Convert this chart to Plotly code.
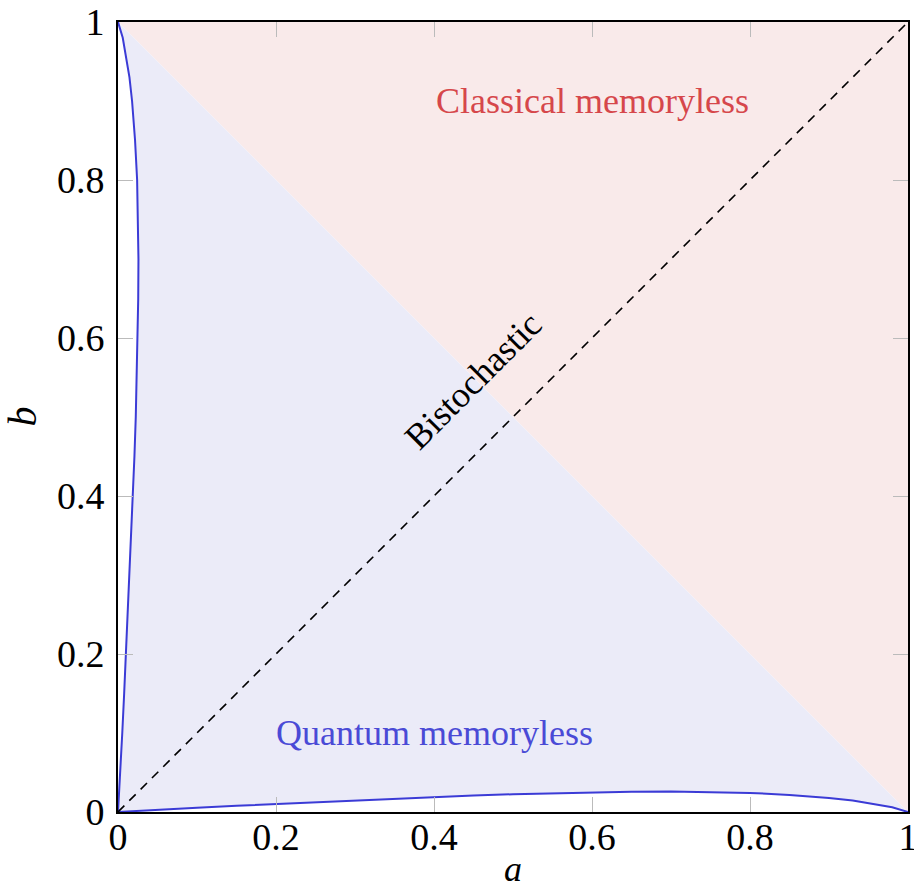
import plotly.graph_objects as go

# Boundary of the quantum memoryless region (lower curve b(a)); the left curve is its mirror image
a_vals = [0, 0.02, 0.05, 0.1, 0.15, 0.2, 0.25, 0.3, 0.35, 0.4, 0.45, 0.5, 0.55, 0.6,
          0.65, 0.7, 0.75, 0.8, 0.85, 0.9, 0.93, 0.96, 0.98, 1]
b_vals = [0, 0.0012, 0.0028, 0.0054, 0.0078, 0.0101, 0.0124, 0.0146, 0.0168, 0.0189,
          0.0208, 0.0225, 0.0238, 0.0249, 0.0256, 0.0259, 0.0255, 0.0242, 0.0216, 0.0178,
          0.0145, 0.0098, 0.0060, 0]

# Classical region: triangle above the anti-diagonal
classical_a = [0, 1, 1]
classical_b = [1, 1, 0]

diag_a = [0, 1]
diag_b = [0, 1]

tick_vals = [0, 0.2, 0.4, 0.6, 0.8, 1]
tick_text = ["0", "0.2", "0.4", "0.6", "0.8", "1"]

FONT = "Liberation Serif"
BLUE_LINE = "#3B3BD6"
BLUE_TEXT = "#4A4AD6"
RED_TEXT = "#D6474B"

fig = go.Figure()

# pink classical triangle
fig.add_trace(go.Scatter(x=classical_a, y=classical_b, fill="toself", mode="lines",
                         fillcolor="#F9EAEA", line=dict(width=0), hoverinfo="skip",
                         showlegend=False))

# lavender quantum region: bottom curve, anti-diagonal, left curve back down
poly_x = a_vals + b_vals[::-1]
poly_y = b_vals + a_vals[::-1]
fig.add_trace(go.Scatter(x=poly_x, y=poly_y, fill="toself", mode="lines",
                         fillcolor="#EBEBF8", line=dict(width=0), hoverinfo="skip",
                         showlegend=False))

# blue boundary curves
fig.add_trace(go.Scatter(x=a_vals, y=b_vals, mode="lines",
                         line=dict(color=BLUE_LINE, width=2), showlegend=False))
fig.add_trace(go.Scatter(x=b_vals, y=a_vals, mode="lines",
                         line=dict(color=BLUE_LINE, width=2), showlegend=False))

# dashed diagonal
fig.add_trace(go.Scatter(x=diag_a, y=diag_b, mode="lines",
                         line=dict(color="black", width=1.6, dash="9px,7px"),
                         showlegend=False))

axis_common = dict(range=[0, 1], showgrid=False, zeroline=False, showline=True,
                   linecolor="black", linewidth=1.6, mirror="allticks",
                   ticks="inside", ticklen=15, tickwidth=1, tickcolor="#BBBBBB",
                   tickvals=tick_vals, ticktext=tick_text, automargin=False,
                   ticklabeloverflow="allow",
                   tickfont=dict(family=FONT, size=38, color="black"))

fig.update_layout(
    width=914, height=895,
    margin=dict(l=118, r=6, t=22, b=83),
    plot_bgcolor="white", paper_bgcolor="white",
    xaxis=dict(**axis_common, ticklabelstandoff=-9),
    yaxis=dict(**axis_common, ticklabelstandoff=4),
    annotations=[
        dict(x=0.6, y=0.9, xref="x", yref="y", text="Classical memoryless",
             showarrow=False, font=dict(family=FONT, size=36, color=RED_TEXT)),
        dict(x=0.4, y=0.1, xref="x", yref="y", text="Quantum memoryless",
             showarrow=False, font=dict(family=FONT, size=36, color=BLUE_TEXT)),
        dict(x=0.449, y=0.546, xref="x", yref="y", text="Bistochastic",
             textangle=-45, showarrow=False,
             font=dict(family=FONT, size=36, color="black")),
        dict(x=0.5, y=-0.072, xref="paper", yref="paper", text="<i>a</i>",
             xanchor="center", yanchor="middle", showarrow=False,
             font=dict(family=FONT, size=36, color="black")),
        dict(x=-0.122, y=0.5, xref="paper", yref="paper", text="<i>b</i>",
             xanchor="center", yanchor="middle", textangle=-90, showarrow=False,
             font=dict(family=FONT, size=40, color="black")),
    ],
)

fig.write_html("out.html", config={"displayModeBar": False},
               post_script="document.body.style.margin='0';document.body.style.overflow='hidden';")
